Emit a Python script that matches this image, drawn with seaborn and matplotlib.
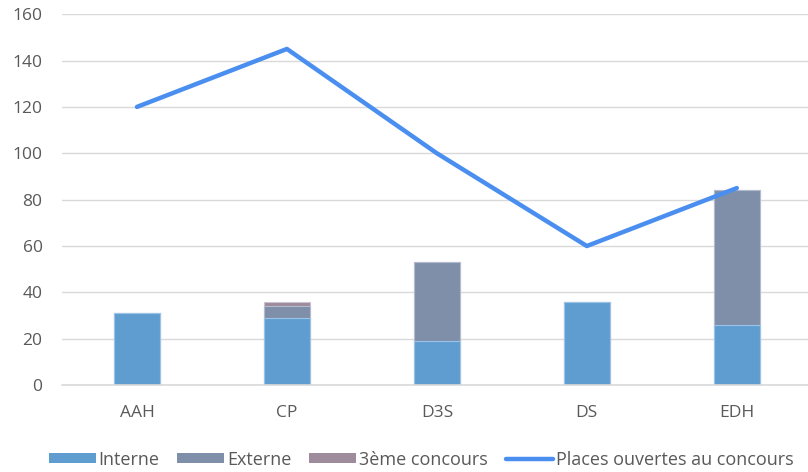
import numpy as np
import pandas as pd
import matplotlib
matplotlib.use("Agg")
import matplotlib.pyplot as plt
import seaborn as sns
from matplotlib.patches import Patch
from matplotlib.lines import Line2D

# Data
categories = ["AAH", "CP", "D3S", "DS", "EDH"]
interne = [31, 29, 19, 36, 26]
externe = [0, 5, 34, 0, 58]
troisieme = [0, 2, 0, 0, 0]
places = [120, 145, 100, 60, 85]

c_interne = "#5F9DD1"
c_externe = "#7F8FAA"
c_troisieme = "#9E8B9C"
c_line = "#4A8FEF"
txt = "#595959"

sns.set_theme(style="white")
plt.rcParams["font.family"] = ["Open Sans", "DejaVu Sans"]

df = pd.DataFrame({
    "cat": categories,
    "interne": interne,
    "ie": np.add(interne, externe),
    "total": np.add(np.add(interne, externe), troisieme),
    "places": places,
})

fig = plt.figure(figsize=(8.08, 4.72), dpi=100)
ax = fig.add_axes([0.0767, 0.184, 0.928, 0.786])

# stacked bars drawn back to front
sns.barplot(data=df, x="cat", y="total", color=c_troisieme, width=0.31,
            saturation=1, edgecolor="#c9c3d0", linewidth=0.8, ax=ax, zorder=2)
sns.barplot(data=df, x="cat", y="ie", color=c_externe, width=0.31,
            saturation=1, edgecolor="#b3bccc", linewidth=0.8, ax=ax, zorder=2)
sns.barplot(data=df, x="cat", y="interne", color=c_interne, width=0.31,
            saturation=1, edgecolor="#9cc3e6", linewidth=0.8, ax=ax, zorder=2)

sns.lineplot(x=np.arange(len(categories)), y=df["places"], color=c_line,
             linewidth=3.2, ax=ax, zorder=3, solid_capstyle="round")

ax.set_xlim(-0.5, 4.5)
ax.set_ylim(0, 160)
ax.set_yticks(range(0, 161, 20))
ax.set_xlabel("")
ax.set_ylabel("")
ax.yaxis.grid(True, color="#d9d9d9", linewidth=1)
ax.set_axisbelow(True)
for s in ["left", "right", "top"]:
    ax.spines[s].set_visible(False)
ax.spines["bottom"].set_color("#d9d9d9")
ax.spines["bottom"].set_linewidth(1.2)
ax.tick_params(axis="both", length=0, labelsize=12.5, colors=txt)
ax.tick_params(axis="y", pad=14)
ax.tick_params(axis="x", pad=14)

handles = [
    Patch(facecolor=c_interne, edgecolor="none"),
    Patch(facecolor=c_externe, edgecolor="none"),
    Patch(facecolor=c_troisieme, edgecolor="none"),
    Line2D([0], [0], color=c_line, linewidth=3.2, solid_capstyle="round"),
]
labels = ["Interne", "Externe", "3ème concours", "Places ouvertes au concours"]
leg = fig.legend(handles, labels, loc="center", bbox_to_anchor=(0.521, 0.026),
                 ncol=4, frameon=False, fontsize=13, handlelength=2.6,
                 handleheight=0.5, handletextpad=0.15, columnspacing=1.0)
for t in leg.get_texts():
    t.set_color(txt)

fig.savefig("out.png", dpi=100)
